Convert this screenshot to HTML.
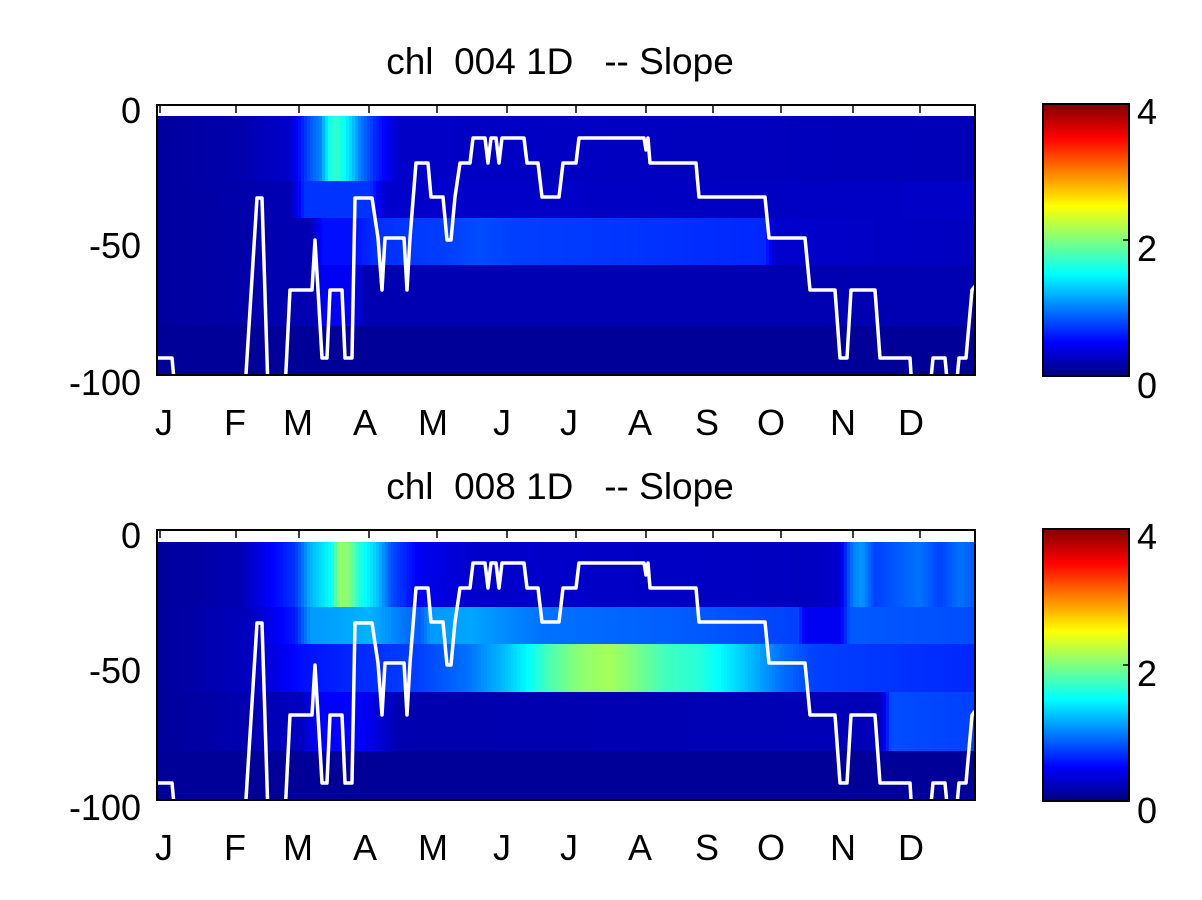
<!DOCTYPE html>
<html><head><meta charset="utf-8"><style>
html,body{margin:0;padding:0;background:#fff;}
svg{display:block;font-family:"Liberation Sans",sans-serif;}
text{white-space:pre;}
</style></head><body>
<svg id="s" width="1202" height="900" xmlns="http://www.w3.org/2000/svg">
<defs>
<clipPath id="c1"><rect x="157" y="105" width="818" height="270"/></clipPath>
<clipPath id="c2"><rect x="157" y="530" width="818" height="270"/></clipPath>
<linearGradient id="jet" x1="0" y1="1" x2="0" y2="0">
<stop offset="0" stop-color="#000080"/><stop offset="0.125" stop-color="#0000ff"/>
<stop offset="0.375" stop-color="#00ffff"/><stop offset="0.625" stop-color="#ffff00"/>
<stop offset="0.875" stop-color="#ff0000"/><stop offset="1" stop-color="#800000"/>
</linearGradient>
</defs>
<g id="h1" clip-path="url(#c1)"></g>
<g id="h2" clip-path="url(#c2)"></g>
<text x="560" y="74" font-size="37" text-anchor="middle" xml:space="preserve">chl  004 1D   -- Slope</text>
<text x="560" y="499" font-size="37" text-anchor="middle" xml:space="preserve">chl  008 1D   -- Slope</text>
<g id="ax"></g>
<rect x="1043" y="104" width="86" height="272" fill="url(#jet)" stroke="#000" stroke-width="2"/>
<rect x="1043" y="529" width="86" height="272" fill="url(#jet)" stroke="#000" stroke-width="2"/>
<g font-size="36">
<text x="1137" y="124">4</text><text x="1137" y="261">2</text><text x="1137" y="398">0</text>
<text x="1137" y="549">4</text><text x="1137" y="686">2</text><text x="1137" y="823">0</text>
</g>
<line x1="1123" y1="240" x2="1129" y2="240" stroke="#000" stroke-width="1.5"/>
<line x1="1123" y1="665" x2="1129" y2="665" stroke="#000" stroke-width="1.5"/>
</svg>
<script>
function jet(v){var t=Math.max(0,Math.min(1,v/4));function c(x){return Math.round(255*Math.max(0,Math.min(1,1.5-Math.abs(x))));}
return "rgb("+c(4*t-3)+","+c(4*t-2)+","+c(4*t-1)+")";}
function interp(k,x){if(x<=k[0][0])return k[0][1];for(var i=1;i<k.length;i++){if(x<=k[i][0]){var a=k[i-1],b=k[i];return a[1]+(b[1]-a[1])*(x-a[0])/(b[0]-a[0]);}}return k[k.length-1][1];}
var NS="http://www.w3.org/2000/svg";
function el(g,n,a){var e=document.createElementNS(NS,n);for(var k in a)e.setAttribute(k,a[k]);g.appendChild(e);return e;}
var P1=[
[105,116,null],
[116,181,[[157,.12],[240,.18],[290,.3],[305,.7],[313,.9],[320,1.0],[330,1.6],[337,1.7],[345,1.5],[352,1.3],[360,1.0],[373,.7],[387,.45],[400,.28],[975,.22]]],
[181,218,[[157,.12],[290,.2],[305,.7],[370,.7],[385,.3],[700,.26],[975,.28]]],
[218,265,[[157,.12],[310,.2],[322,.55],[353,.55],[373,.68],[453,.75],[480,.8],[507,.75],[640,.7],[765,.65],[775,.3],[975,.25]]],
[265,326,[[157,.12],[315,.2],[322,.45],[353,.45],[365,.2],[975,.2]]],
[326,375,[[157,.1],[975,.1]]]];
var P2=[
[530,542,null],
[542,607,[[157,.1],[240,.2],[266,.45],[295,.7],[310,1.2],[330,1.5],[340,2.1],[350,2.0],[360,1.6],[376,1.3],[392,.8],[420,.45],[470,.3],[800,.25],[838,.3],[853,1.0],[862,1.1],[875,.75],[897,.85],[920,.95],[940,.75],[960,.95],[975,.85]]],
[607,644,[[157,.1],[250,.25],[295,.6],[310,1.1],[370,1.2],[420,.85],[430,1.1],[469,1.15],[540,.95],[700,.85],[798,.75],[805,.45],[840,.45],[850,.85],[975,.8]]],
[644,692,[[157,.1],[250,.25],[300,.55],[350,.65],[420,.75],[469,.95],[500,1.2],[524,1.45],[550,1.8],[579,2.05],[610,2.15],[633,2.0],[666,1.75],[700,1.65],[743,1.3],[780,.95],[814,.75],[975,.65]]],
[692,751,[[157,.1],[300,.25],[320,.5],[360,.5],[400,.18],[880,.22],[891,.8],[975,.75]]],
[751,800,[[157,.1],[975,.1]]]];
function heat(g,P){g=document.getElementById(g);
for(var r=0;r<P.length;r++){var b=P[r];if(!b[2]){el(g,"rect",{x:157,y:b[0],width:818,height:b[1]-b[0],fill:"#fff"});continue;}
for(var x=157;x<975;x+=3){el(g,"rect",{x:x,y:b[0],width:3.5,height:b[1]-b[0],fill:jet(interp(b[2],x+1.5))});}}}
heat("h1",P1);heat("h2",P2);
var L=[[157,358],[172,358],[175,390],[245,390],[257,198],[262,198],[268,390],[285,390],[290,290],[312,290],[315,240],[318,290],[322,358],[327,358],[330,290],[342,290],[345,358],[352,358],[355,198],[372,198],[378,238],[382,290],[385,238],[404,238],[407,290],[410,238],[416,163],[428,163],[431,197],[443,197],[447,240],[451,240],[455,197],[460,163],[470,163],[473,138],[485,138],[488,163],[491,138],[496,138],[499,163],[502,138],[524,138],[527,163],[538,163],[542,197],[559,197],[563,163],[576,163],[579,138],[644,138],[646,150],[648,138],[650,163],[696,163],[699,197],[765,197],[769,238],[805,238],[810,290],[835,290],[840,358],[847,358],[851,290],[875,290],[880,358],[910,358],[912,390],[930,390],[933,358],[945,358],[948,390],[956,390],[959,358],[966,358],[972,290],[976,285]];
["h1","h2"].forEach(function(id,i){var off=i*425;el(document.getElementById(id),"polyline",{points:L.map(function(p){return p[0]+","+(p[1]+off)}).join(" "),fill:"none",stroke:"#fff","stroke-width":3.5,"stroke-linejoin":"round"});});
var ax=document.getElementById("ax");
var ticks=[236,299,369,437,507,576,646,713,781,853,920];
var months=[["J",155],["F",224],["M",283],["A",353],["M",418],["J",493],["J",560],["A",628],["S",695],["O",757],["N",830],["D",898]];
[0,425].forEach(function(o){
el(ax,"rect",{x:157,y:105+o,width:818,height:270,fill:"none",stroke:"#000","stroke-width":2});
ticks.forEach(function(t){el(ax,"line",{x1:t,y1:105+o,x2:t,y2:113+o,stroke:"#000","stroke-width":1.5});});
el(ax,"line",{x1:160,y1:105+o,x2:160,y2:113+o,stroke:"#000","stroke-width":1.5});
months.forEach(function(m){var t=el(ax,"text",{x:m[1],y:435+o,"font-size":"36"});t.textContent=m[0];});
[["0",123],["-50",258],["-100",395]].forEach(function(l){var t=el(ax,"text",{x:141,y:l[1]+o,"font-size":"36","text-anchor":"end"});t.textContent=l[0];});
});
</script>
</body></html>
